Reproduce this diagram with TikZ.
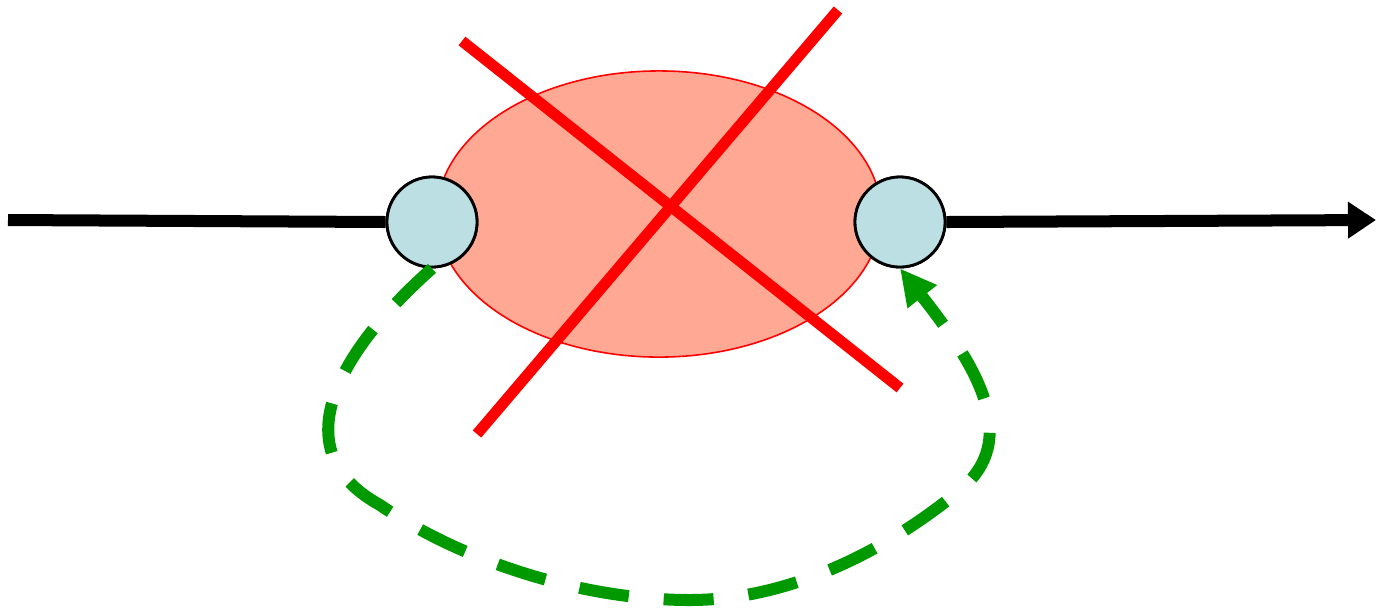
\documentclass[tikz,border=0pt]{standalone}
\usetikzlibrary{arrows.meta,shapes.geometric}
\definecolor{salmonfill}{HTML}{FFA995}
\definecolor{bluefill}{HTML}{BCDFE3}
\definecolor{dgreen}{HTML}{009900}
\definecolor{xred}{HTML}{FF0000}
\tikzset{
  port/.style={circle,draw=black,line width=0.8pt,fill=bluefill,minimum size=0.9cm,inner sep=0pt},
  blob/.style={ellipse,draw=xred,line width=0.45pt,fill=salmonfill,minimum width=4.44cm,minimum height=2.86cm,inner sep=0pt},
  mainline/.style={line width=0.12cm,black},
  cross/.style={line width=0.11cm,xred},
  loopback/.style={line width=0.12cm,dgreen,dash pattern=on 0.5cm off 0.35cm,-{Triangle[length=0.36cm,width=0.35cm]}}
}
\begin{document}
\begin{tikzpicture}[x=0.01cm,y=-0.01cm]
\useasboundingbox (0,0) rectangle (1376,608);
\coordinate (start) at (8,220);
\coordinate (end) at (1376,220);
\node[blob] (el) at (659,214) {};
\node[port] (lc) at (432,222) {};
\node[port] (rc) at (900,222) {};
\draw[mainline] (start) -- (lc.west);
\draw[mainline,-{Triangle[length=0.28cm,width=0.35cm]}] (rc.east) -- (end);
\coordinate (a1) at (462,41);
\coordinate (a2) at (900,388);
\coordinate (b1) at (838,10);
\coordinate (b2) at (477,434);
\draw[cross] (a1) -- (a2);
\draw[cross] (b1) -- (b2);
\node[port] at (lc) {};
\node[port] at (rc) {};
\draw[loopback] (lc.south) .. controls (340,350) and (280,450) .. (380,505)
  .. controls (460,560) and (580,600) .. (690,600)
  .. controls (800,600) and (900,540) .. (960,490)
  .. controls (1020,440) and (980,370) .. (rc.south);
\end{tikzpicture}
\end{document}
